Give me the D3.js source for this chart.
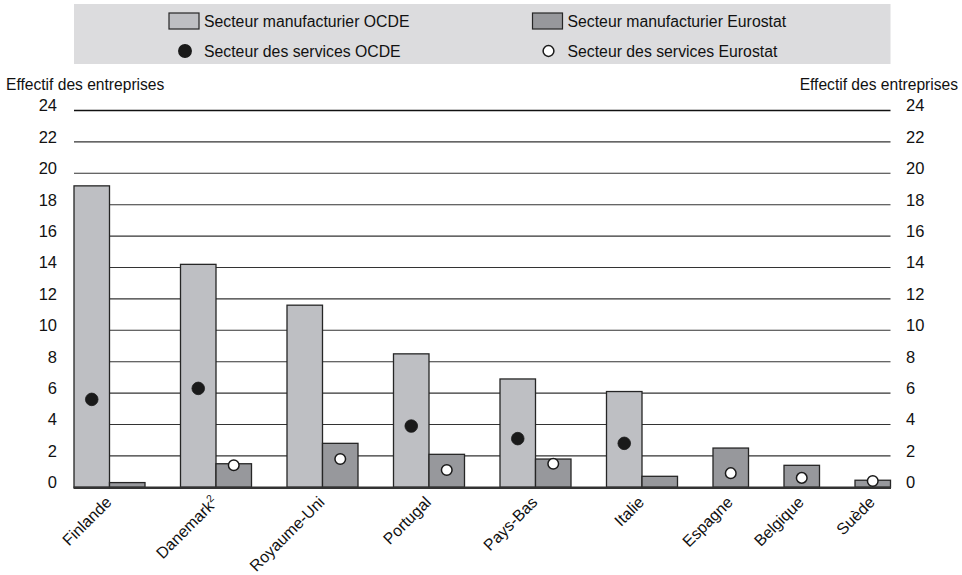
<!DOCTYPE html>
<html>
<head>
<meta charset="utf-8">
<script src="https://cdn.jsdelivr.net/npm/d3@7"></script>
<style>
  html, body { margin: 0; padding: 0; background: #fff; }
  svg { display: block; font-family: "Liberation Sans", Arial, Helvetica, sans-serif; }
</style>
</head>
<body>
<svg id="chart" width="962" height="575"></svg>
<script>
// ---- Data ----
const countries = ["Finlande", "Danemark", "Royaume-Uni", "Portugal", "Pays-Bas", "Italie", "Espagne", "Belgique", "Suède"];
const countryNotes = ["", "2", "", "", "", "", "", "", ""];
const manufOCDE     = [19.2, 14.2, 11.6, 8.5, 6.9, 6.1, null, null, null];
const manufEurostat = [0.3, 1.5, 2.8, 2.1, 1.8, 0.7, 2.5, 1.4, 0.45];
const servOCDE      = [5.6, 6.3, null, 3.9, 3.1, 2.8, null, null, null];
const servEurostat  = [null, 1.4, 1.8, 1.1, 1.5, null, 0.9, 0.6, 0.4];
const yTicks = [0, 2, 4, 6, 8, 10, 12, 14, 16, 18, 20, 22, 24];
const axisTitle = "Effectif des entreprises";
const legendLabels = ["Secteur manufacturier OCDE", "Secteur manufacturier Eurostat",
                      "Secteur des services OCDE", "Secteur des services Eurostat"];

// ---- Layout ----
const W = 962, H = 575;
const plot = { left: 74, right: 890.5, top: 110.5, bottom: 487.3 };
const colOCDE = "#bebfc3", colEuro = "#97989c", stroke = "#262626";

const svg = d3.select("#chart");

// slot layout: each country occupies one slot per bar, one empty slot between countries
const rows = countries.map((c, i) => ({
  name: c, note: countryNotes[i],
  mO: manufOCDE[i], mE: manufEurostat[i], sO: servOCDE[i], sE: servEurostat[i]
}));
let slot = 0;
rows.forEach(r => {
  r.slotO = r.mO != null ? slot++ : null;
  r.slotE = slot++;
  slot++; // gap
});
const totalSlots = slot - 1;

const x = d3.scaleBand().domain(d3.range(totalSlots)).range([plot.left, plot.right]).padding(0);
const bw = x.bandwidth();
const y = d3.scaleLinear().domain([0, 24]).range([plot.bottom, plot.top]);

// ---- Legend box ----
const lg = svg.append("g");
lg.append("rect").attr("x", plot.left).attr("y", 4).attr("width", plot.right - plot.left).attr("height", 60)
  .attr("fill", "#dcdcde");
const legendItems = [
  { type: "bar", fill: colOCDE, x: 169, y: 21, label: legendLabels[0] },
  { type: "bar", fill: colEuro, x: 532.5, y: 21, label: legendLabels[1] },
  { type: "dot", fill: "#1a1a1a", x: 169, y: 51, label: legendLabels[2] },
  { type: "dot", fill: "#fff", x: 532.5, y: 51, label: legendLabels[3] }
];
legendItems.forEach(it => {
  if (it.type === "bar") {
    lg.append("rect").attr("x", it.x).attr("y", it.y - 8).attr("width", 30).attr("height", 16)
      .attr("fill", it.fill).attr("stroke", stroke).attr("stroke-width", 1.2);
  } else {
    lg.append("circle").attr("cx", it.x + 16).attr("cy", it.y).attr("r", it.fill === "#fff" ? 5.4 : 6.2)
      .attr("fill", it.fill).attr("stroke", "#1a1a1a").attr("stroke-width", 1.5);
  }
  lg.append("text").attr("x", it.x + 35).attr("y", it.y + 5.5)
    .attr("font-size", 15.8).attr("fill", "#111").text(it.label);
});

// ---- Axis titles ----
svg.append("text").attr("x", 6).attr("y", 90).attr("font-size", 15.6).attr("fill", "#111").text(axisTitle);
svg.append("text").attr("x", 958).attr("y", 90).attr("text-anchor", "end").attr("font-size", 15.6)
  .attr("fill", "#111").text(axisTitle);

// ---- Gridlines ----
svg.append("g").selectAll("line").data(yTicks.filter(t => t > 0)).join("line")
  .attr("x1", plot.left).attr("x2", plot.right)
  .attr("y1", d => y(d)).attr("y2", d => y(d))
  .attr("stroke", d => d === 24 ? "#111" : "#333")
  .attr("stroke-width", d => d === 24 ? 1.5 : 1.1);

// ---- Tick labels (left & right) via d3 axes ----
const axL = svg.append("g").attr("transform", `translate(${plot.left},0)`)
  .call(d3.axisLeft(y).tickValues(yTicks).tickSize(0).tickPadding(17));
const axR = svg.append("g").attr("transform", `translate(${plot.right},0)`)
  .call(d3.axisRight(y).tickValues(yTicks).tickSize(0).tickPadding(15.5));
[axL, axR].forEach(a => {
  a.select(".domain").remove();
  a.selectAll("text").attr("font-size", 16.5).attr("fill", "#111")
    .attr("font-family", "\"Liberation Sans\", Arial, sans-serif")
    .attr("dy", "0.02em");
});

// ---- Bars ----
const bars = svg.append("g");
bars.selectAll("rect.o").data(rows.filter(r => r.mO != null)).join("rect").attr("class", "o")
  .attr("x", r => x(r.slotO)).attr("width", bw)
  .attr("y", r => y(r.mO)).attr("height", r => y(0) - y(r.mO))
  .attr("fill", colOCDE).attr("stroke", stroke).attr("stroke-width", 1.3);
bars.selectAll("rect.e").data(rows.filter(r => r.mE != null)).join("rect").attr("class", "e")
  .attr("x", r => x(r.slotE)).attr("width", bw)
  .attr("y", r => y(r.mE)).attr("height", r => y(0) - y(r.mE))
  .attr("fill", colEuro).attr("stroke", stroke).attr("stroke-width", 1.3);

// ---- Baseline ----
svg.append("line").attr("x1", plot.left - 0.5).attr("x2", plot.right + 0.5)
  .attr("y1", y(0) + 0.5).attr("y2", y(0) + 0.5).attr("stroke", "#333").attr("stroke-width", 2.4);

// ---- Dots ----
svg.append("g").selectAll("circle.o").data(rows.filter(r => r.sO != null)).join("circle")
  .attr("cx", r => x(r.slotO) + bw / 2).attr("cy", r => y(r.sO)).attr("r", 6.3)
  .attr("fill", "#1a1a1a").attr("stroke", "#1a1a1a").attr("stroke-width", 0.8);
svg.append("g").selectAll("circle.e").data(rows.filter(r => r.sE != null)).join("circle")
  .attr("cx", r => x(r.slotE) + bw / 2).attr("cy", r => y(r.sE)).attr("r", 5.3)
  .attr("fill", "#fff").attr("stroke", "#1a1a1a").attr("stroke-width", 1.5);

// ---- Category labels ----
const labels = svg.append("g").selectAll("text").data(rows).join("text")
  .attr("transform", r => {
    const cx = r.slotO != null ? x(r.slotE) : x(r.slotE) + bw / 2;
    return `translate(${cx + 3},${y(0) + 16}) rotate(-45)`;
  })
  .attr("text-anchor", "end").attr("font-size", 16).attr("fill", "#111");
labels.each(function(r) {
  const t = d3.select(this);
  t.append("tspan").text(r.name);
  if (r.note) t.append("tspan").attr("font-size", 10.5).attr("dy", "-0.6em").text(r.note);
});
</script>
</body>
</html>
